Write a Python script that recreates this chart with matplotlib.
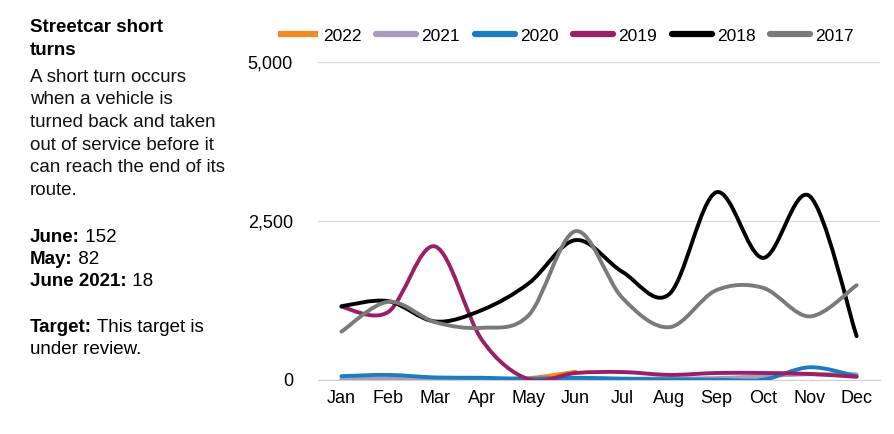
import matplotlib
matplotlib.use("Agg")
import matplotlib.pyplot as plt
from matplotlib.path import Path
from matplotlib.patches import PathPatch
from matplotlib.lines import Line2D

plt.rcParams["font.family"] = ["Liberation Sans", "DejaVu Sans"]

months = ["Jan", "Feb", "Mar", "Apr", "May", "Jun",
          "Jul", "Aug", "Sep", "Oct", "Nov", "Dec"]

y2022 = [10, 20, 15, 15, 30, 130]
y2021 = [10, 15, 15, 15, 10, 18, 20, 25, 30, 60, 90, 90]
y2020 = [60, 80, 40, 35, 20, 35, 20, 10, 5, 5, 200, 60]
y2019 = [1150, 1070, 2100, 630, 10, 110, 125, 80, 110, 110, 95, 50]
y2018 = [1160, 1240, 920, 1100, 1520, 2200, 1700, 1350, 2950, 1920, 2890, 690]
y2017 = [760, 1230, 910, 820, 1020, 2340, 1290, 830, 1410, 1450, 1000, 1490]

series = [
    ("2022", y2022, "#F08A24"),
    ("2021", y2021, "#A99BBE"),
    ("2020", y2020, "#1A7DC0"),
    ("2019", y2019, "#9A1F65"),
    ("2018", y2018, "#000000"),
    ("2017", y2017, "#7A7A7A"),
]


def smooth_path(ys):
    """Excel-style smoothed line as cubic Bezier segments (Catmull-Rom)."""
    pts = list(enumerate(ys))
    verts = [pts[0]]
    codes = [Path.MOVETO]
    n = len(pts)
    for i in range(n - 1):
        p0 = pts[i - 1] if i > 0 else pts[i]
        p1 = pts[i]
        p2 = pts[i + 1]
        p3 = pts[i + 2] if i + 2 < n else pts[i + 1]
        c1 = (p1[0] + (p2[0] - p0[0]) / 6, p1[1] + (p2[1] - p0[1]) / 6)
        c2 = (p2[0] - (p3[0] - p1[0]) / 6, p2[1] - (p3[1] - p1[1]) / 6)
        verts += [c1, c2, p2]
        codes += [Path.CURVE4] * 3
    return Path(verts, codes)


fig = plt.figure(figsize=(8.94, 4.34), dpi=100)
ax = fig.add_axes([318 / 894, 1 - 380 / 434, 562 / 894, 318 / 434])

handles = []
for z, (name, ys, color) in enumerate(series):
    patch = PathPatch(smooth_path(ys), fill=False, edgecolor=color,
                      linewidth=2.8, capstyle="round", joinstyle="round",
                      zorder=2 + z * 0.1)
    ax.add_patch(patch)
    handles.append(Line2D([], [], color=color, linewidth=4.5, label=name,
                          solid_capstyle="butt" if name == "2022" else "round"))

ax.set_xlim(-0.5, 11.5)
ax.set_ylim(0, 5000)
ax.set_xticks(range(len(months)))
ax.set_xticklabels(months)
ax.set_yticks([0, 2500, 5000])
ax.set_yticklabels(["0", "2,500", "5,000"])
ax.tick_params(length=0, labelsize=13, pad=7)
ax.tick_params(axis="y", pad=18)
for side in ["top", "right", "left"]:
    ax.spines[side].set_visible(False)
ax.spines["bottom"].set_color("#D0D0D0")
ax.spines["bottom"].set_zorder(0)
ax.set_axisbelow(True)
ax.grid(axis="y", color="#DCDCDC", linewidth=1)
ax.grid(axis="x", visible=False)

fig.legend(handles=handles, loc="center", ncol=6, frameon=False,
           bbox_to_anchor=(566 / 894, 1 - 36 / 434), fontsize=12.5,
           handlelength=2.3, handletextpad=0.3, columnspacing=0.85)

# left-hand description
x0 = 30 / 894
pitch = 22.7 / 434
fs = 13.5


def ypos(px):
    return 1 - px / 434


fig.text(x0, ypos(28), "Streetcar short", fontsize=fs, fontweight="bold", va="center")
fig.text(x0, ypos(28) - pitch, "turns", fontsize=fs, fontweight="bold", va="center")
body = ["A short turn occurs", "when a vehicle is", "turned back and taken",
        "out of service before it", "can reach the end of its", "route."]
for i, line in enumerate(body):
    fig.text(x0, ypos(77) - i * pitch, line, fontsize=fs, va="center", color="#111111")

stats = [("June:", " 152", 237), ("May:", " 82", 260), ("June 2021:", " 18", 282),
         ("Target:", " This target is", 328)]
for bold, rest, py in stats:
    t = fig.text(x0, ypos(py), bold, fontsize=fs, fontweight="bold", va="center")
    fig.canvas.draw()
    bb = t.get_window_extent()
    fig.text(bb.x1 / fig.bbox.width, ypos(py), rest, fontsize=fs, va="center")
fig.text(x0, ypos(350), "under review.", fontsize=fs, va="center")

fig.savefig("out.png", dpi=100)
